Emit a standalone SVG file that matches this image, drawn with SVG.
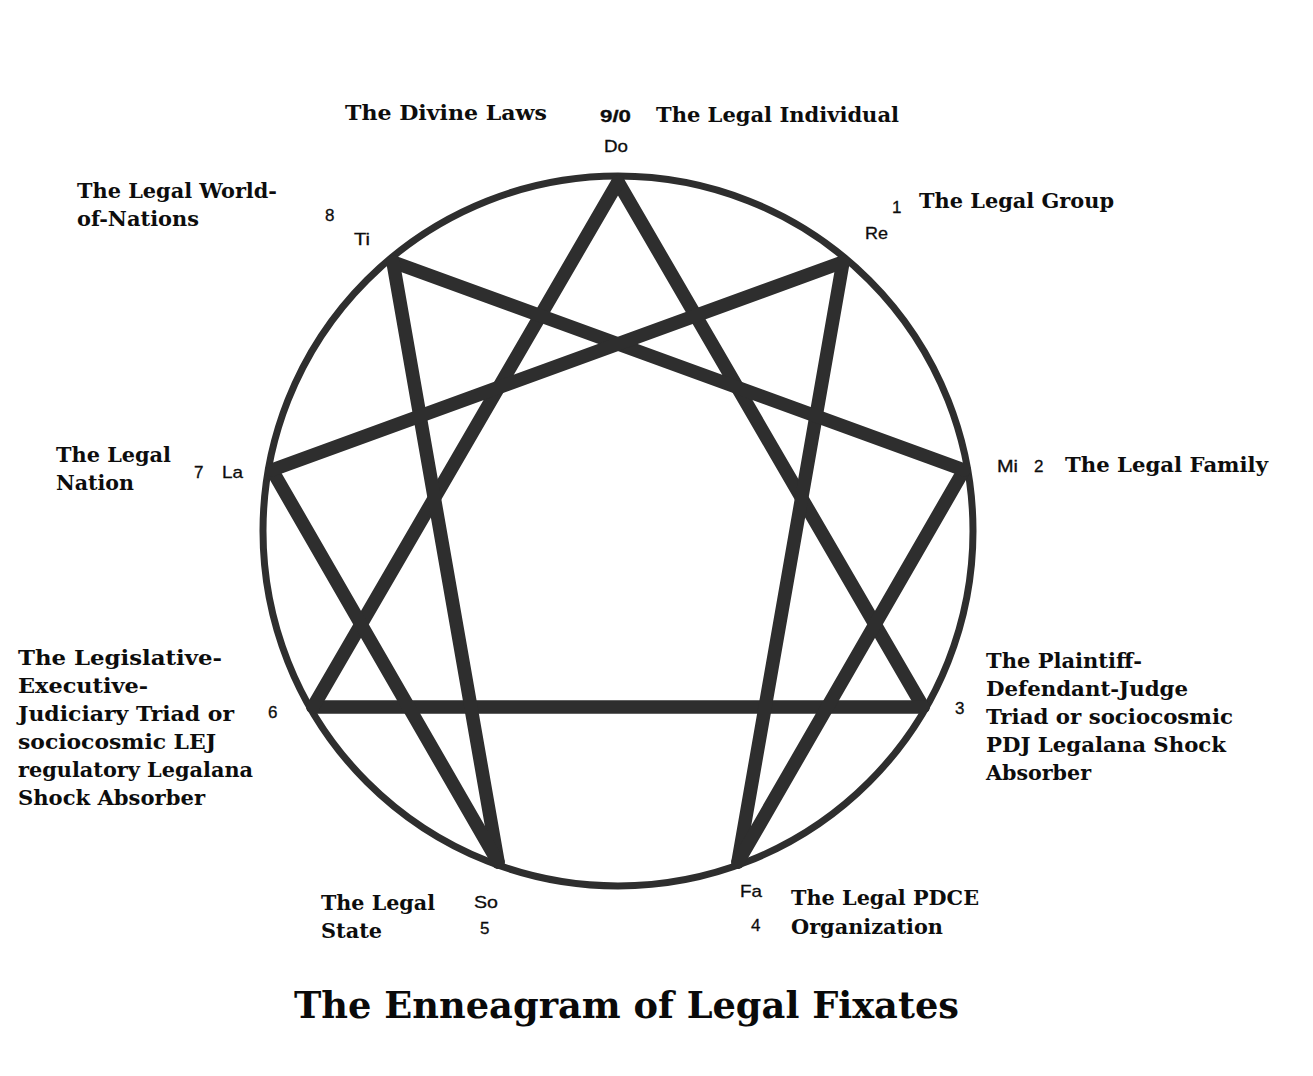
<svg xmlns="http://www.w3.org/2000/svg" width="1313" height="1076" viewBox="0 0 1313 1076">
<style>
.t{font-family:"DejaVu Serif","Liberation Serif",serif;font-weight:bold;font-size:20.5px;fill:#0d0d0d}
.s{font-family:"Liberation Sans",Arial,sans-serif;font-size:17px;fill:#0d0d0d;stroke:#0d0d0d;stroke-width:0.3}
.n{font-family:"Liberation Sans",Arial,sans-serif;font-size:17px;fill:#0d0d0d;stroke:#0d0d0d;stroke-width:0.3}
.ln{stroke:#2e2e2e;stroke-width:13.5;stroke-linecap:round;fill:none}
.title{font-family:"DejaVu Serif","Liberation Serif",serif;font-weight:bold;font-size:37px;fill:#0a0a0a}
</style>
<rect width="1313" height="1076" fill="#ffffff"/>
<circle cx="618" cy="531" r="355" fill="none" stroke="#2e2e2e" stroke-width="7"/>
<g id="connectors">
<line class="ln" x1="618" y1="182" x2="923" y2="707"/>
<line class="ln" x1="923" y1="707" x2="313" y2="707"/>
<line class="ln" x1="313" y1="707" x2="618" y2="182"/>
<line class="ln" x1="843" y1="262" x2="738" y2="862"/>
<line class="ln" x1="738" y1="862" x2="964" y2="470"/>
<line class="ln" x1="964" y1="470" x2="393" y2="262"/>
<line class="ln" x1="393" y1="262" x2="498" y2="862"/>
<line class="ln" x1="498" y1="862" x2="272" y2="470"/>
<line class="ln" x1="272" y1="470" x2="843" y2="262"/>
</g>
<g id="node-9">
<text class="t" x="345" y="120" textLength="202" lengthAdjust="spacingAndGlyphs">The Divine Laws</text>
<text class="s" x="600" y="122" font-size="20" font-weight="bold" textLength="31" lengthAdjust="spacingAndGlyphs">9/0</text>
<text class="t" x="656" y="122" textLength="243" lengthAdjust="spacingAndGlyphs">The Legal Individual</text>
<text class="s" x="604" y="152" textLength="24" lengthAdjust="spacingAndGlyphs">Do</text>
</g>
<g id="node-1">
<text class="n" x="892" y="213">1</text>
<text class="s" x="865" y="239" textLength="23" lengthAdjust="spacingAndGlyphs">Re</text>
<text class="t" x="919" y="208" textLength="195" lengthAdjust="spacingAndGlyphs">The Legal Group</text>
</g>
<g id="node-2">
<text class="s" x="997" y="472" textLength="21" lengthAdjust="spacingAndGlyphs">Mi</text>
<text class="n" x="1034" y="472">2</text>
<text class="t" x="1065" y="472" textLength="203" lengthAdjust="spacingAndGlyphs">The Legal Family</text>
</g>
<g id="node-3">
<text class="n" x="955" y="714">3</text>
<text class="t" x="986" y="668" textLength="156" lengthAdjust="spacingAndGlyphs">The Plaintiff-</text>
<text class="t" x="986" y="696" textLength="202" lengthAdjust="spacingAndGlyphs">Defendant-Judge</text>
<text class="t" x="986" y="724" textLength="247" lengthAdjust="spacingAndGlyphs">Triad or sociocosmic</text>
<text class="t" x="986" y="752" textLength="240" lengthAdjust="spacingAndGlyphs">PDJ Legalana Shock</text>
<text class="t" x="986" y="780" textLength="105" lengthAdjust="spacingAndGlyphs">Absorber</text>
</g>
<g id="node-4">
<text class="s" x="740" y="897" textLength="22" lengthAdjust="spacingAndGlyphs">Fa</text>
<text class="n" x="751" y="931">4</text>
<text class="t" x="791" y="905" textLength="188" lengthAdjust="spacingAndGlyphs">The Legal PDCE</text>
<text class="t" x="791" y="934" textLength="152" lengthAdjust="spacingAndGlyphs">Organization</text>
</g>
<g id="node-5">
<text class="t" x="321" y="910" textLength="114" lengthAdjust="spacingAndGlyphs">The Legal</text>
<text class="t" x="321" y="938" textLength="61" lengthAdjust="spacingAndGlyphs">State</text>
<text class="s" x="474" y="908" textLength="24" lengthAdjust="spacingAndGlyphs">So</text>
<text class="n" x="480" y="934">5</text>
</g>
<g id="node-6">
<text class="n" x="268" y="718">6</text>
<text class="t" x="18" y="665" textLength="204" lengthAdjust="spacingAndGlyphs">The Legislative-</text>
<text class="t" x="18" y="693" textLength="130" lengthAdjust="spacingAndGlyphs">Executive-</text>
<text class="t" x="18" y="721" textLength="216" lengthAdjust="spacingAndGlyphs">Judiciary Triad or</text>
<text class="t" x="18" y="749" textLength="198" lengthAdjust="spacingAndGlyphs">sociocosmic LEJ</text>
<text class="t" x="18" y="777" textLength="235" lengthAdjust="spacingAndGlyphs">regulatory Legalana</text>
<text class="t" x="18" y="805" textLength="187" lengthAdjust="spacingAndGlyphs">Shock Absorber</text>
</g>
<g id="node-7">
<text class="t" x="56" y="462" textLength="115" lengthAdjust="spacingAndGlyphs">The Legal</text>
<text class="t" x="56" y="490" textLength="78" lengthAdjust="spacingAndGlyphs">Nation</text>
<text class="n" x="194" y="478">7</text>
<text class="s" x="222" y="478" textLength="21" lengthAdjust="spacingAndGlyphs">La</text>
</g>
<g id="node-8">
<text class="t" x="77" y="198" textLength="200" lengthAdjust="spacingAndGlyphs">The Legal World-</text>
<text class="t" x="77" y="226" textLength="122" lengthAdjust="spacingAndGlyphs">of-Nations</text>
<text class="n" x="325" y="221">8</text>
<text class="s" x="354" y="245" textLength="16" lengthAdjust="spacingAndGlyphs">Ti</text>
</g>
<g id="title">
<text class="title" x="294" y="1018" textLength="665" lengthAdjust="spacingAndGlyphs">The Enneagram of Legal Fixates</text>
</g>
</svg>
